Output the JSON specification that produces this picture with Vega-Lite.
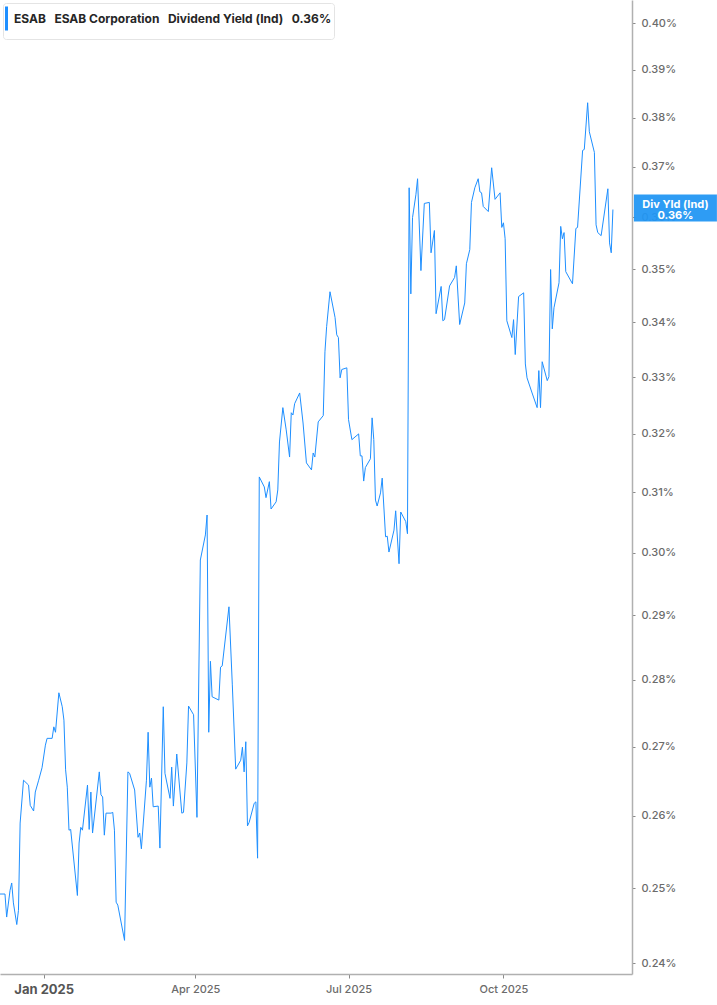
{
  "$schema": "https://vega.github.io/schema/vega-lite/v6.json",
  "autosize": {"type": "none"},
  "padding": {"left": 0, "top": 0, "right": 85, "bottom": 31},
  "width": 632,
  "height": 974,
  "background": "white",
  "data": {
    "values": [
      {"date": "2024-12-06", "yield": 0.2492},
      {"date": "2024-12-09", "yield": 0.2492},
      {"date": "2024-12-10", "yield": 0.2461},
      {"date": "2024-12-12", "yield": 0.2497},
      {"date": "2024-12-13", "yield": 0.2507},
      {"date": "2024-12-14", "yield": 0.2480},
      {"date": "2024-12-16", "yield": 0.2451},
      {"date": "2024-12-17", "yield": 0.2470},
      {"date": "2024-12-18", "yield": 0.2590},
      {"date": "2024-12-20", "yield": 0.2651},
      {"date": "2024-12-23", "yield": 0.2644},
      {"date": "2024-12-24", "yield": 0.2615},
      {"date": "2024-12-26", "yield": 0.2607},
      {"date": "2024-12-27", "yield": 0.2634},
      {"date": "2024-12-29", "yield": 0.2651},
      {"date": "2024-12-31", "yield": 0.2669},
      {"date": "2025-01-02", "yield": 0.2702},
      {"date": "2025-01-03", "yield": 0.2712},
      {"date": "2025-01-06", "yield": 0.2712},
      {"date": "2025-01-07", "yield": 0.2729},
      {"date": "2025-01-08", "yield": 0.2721},
      {"date": "2025-01-10", "yield": 0.2780},
      {"date": "2025-01-12", "yield": 0.2759},
      {"date": "2025-01-13", "yield": 0.2739},
      {"date": "2025-01-14", "yield": 0.2666},
      {"date": "2025-01-15", "yield": 0.2641},
      {"date": "2025-01-16", "yield": 0.2580},
      {"date": "2025-01-17", "yield": 0.2581},
      {"date": "2025-01-21", "yield": 0.2490},
      {"date": "2025-01-22", "yield": 0.2562},
      {"date": "2025-01-23", "yield": 0.2584},
      {"date": "2025-01-24", "yield": 0.2580},
      {"date": "2025-01-27", "yield": 0.2644},
      {"date": "2025-01-28", "yield": 0.2581},
      {"date": "2025-01-29", "yield": 0.2634},
      {"date": "2025-01-30", "yield": 0.2576},
      {"date": "2025-02-03", "yield": 0.2663},
      {"date": "2025-02-04", "yield": 0.2630},
      {"date": "2025-02-05", "yield": 0.2627},
      {"date": "2025-02-06", "yield": 0.2573},
      {"date": "2025-02-07", "yield": 0.2604},
      {"date": "2025-02-10", "yield": 0.2604},
      {"date": "2025-02-11", "yield": 0.2605},
      {"date": "2025-02-12", "yield": 0.2580},
      {"date": "2025-02-13", "yield": 0.2481},
      {"date": "2025-02-14", "yield": 0.2477},
      {"date": "2025-02-18", "yield": 0.2430},
      {"date": "2025-02-20", "yield": 0.2663},
      {"date": "2025-02-21", "yield": 0.2661},
      {"date": "2025-02-24", "yield": 0.2637},
      {"date": "2025-02-26", "yield": 0.2570},
      {"date": "2025-02-27", "yield": 0.2576},
      {"date": "2025-02-28", "yield": 0.2554},
      {"date": "2025-03-03", "yield": 0.2651},
      {"date": "2025-03-04", "yield": 0.2721},
      {"date": "2025-03-05", "yield": 0.2641},
      {"date": "2025-03-06", "yield": 0.2654},
      {"date": "2025-03-07", "yield": 0.2613},
      {"date": "2025-03-10", "yield": 0.2614},
      {"date": "2025-03-11", "yield": 0.2555},
      {"date": "2025-03-13", "yield": 0.2759},
      {"date": "2025-03-14", "yield": 0.2661},
      {"date": "2025-03-17", "yield": 0.2625},
      {"date": "2025-03-18", "yield": 0.2670},
      {"date": "2025-03-19", "yield": 0.2614},
      {"date": "2025-03-21", "yield": 0.2689},
      {"date": "2025-03-24", "yield": 0.2604},
      {"date": "2025-03-25", "yield": 0.2605},
      {"date": "2025-03-27", "yield": 0.2676},
      {"date": "2025-03-28", "yield": 0.2760},
      {"date": "2025-03-31", "yield": 0.2747},
      {"date": "2025-04-02", "yield": 0.2598},
      {"date": "2025-04-04", "yield": 0.2988},
      {"date": "2025-04-07", "yield": 0.3029},
      {"date": "2025-04-08", "yield": 0.3062},
      {"date": "2025-04-09", "yield": 0.2721},
      {"date": "2025-04-10", "yield": 0.2828},
      {"date": "2025-04-11", "yield": 0.2774},
      {"date": "2025-04-15", "yield": 0.2769},
      {"date": "2025-04-16", "yield": 0.2819},
      {"date": "2025-04-17", "yield": 0.2821},
      {"date": "2025-04-21", "yield": 0.2913},
      {"date": "2025-04-23", "yield": 0.2792},
      {"date": "2025-04-25", "yield": 0.2667},
      {"date": "2025-04-28", "yield": 0.2680},
      {"date": "2025-04-29", "yield": 0.2699},
      {"date": "2025-04-30", "yield": 0.2663},
      {"date": "2025-05-01", "yield": 0.2707},
      {"date": "2025-05-02", "yield": 0.2586},
      {"date": "2025-05-03", "yield": 0.2591},
      {"date": "2025-05-06", "yield": 0.2618},
      {"date": "2025-05-07", "yield": 0.2620},
      {"date": "2025-05-08", "yield": 0.2541},
      {"date": "2025-05-09", "yield": 0.3126},
      {"date": "2025-05-12", "yield": 0.3109},
      {"date": "2025-05-13", "yield": 0.3091},
      {"date": "2025-05-15", "yield": 0.3118},
      {"date": "2025-05-16", "yield": 0.3072},
      {"date": "2025-05-19", "yield": 0.3084},
      {"date": "2025-05-20", "yield": 0.3104},
      {"date": "2025-05-21", "yield": 0.3186},
      {"date": "2025-05-23", "yield": 0.3246},
      {"date": "2025-05-25", "yield": 0.3207},
      {"date": "2025-05-27", "yield": 0.3160},
      {"date": "2025-05-28", "yield": 0.3237},
      {"date": "2025-05-29", "yield": 0.3233},
      {"date": "2025-05-30", "yield": 0.3253},
      {"date": "2025-06-02", "yield": 0.3272},
      {"date": "2025-06-04", "yield": 0.3219},
      {"date": "2025-06-06", "yield": 0.3150},
      {"date": "2025-06-09", "yield": 0.3138},
      {"date": "2025-06-10", "yield": 0.3167},
      {"date": "2025-06-11", "yield": 0.3160},
      {"date": "2025-06-13", "yield": 0.3221},
      {"date": "2025-06-16", "yield": 0.3232},
      {"date": "2025-06-17", "yield": 0.3346},
      {"date": "2025-06-18", "yield": 0.3392},
      {"date": "2025-06-20", "yield": 0.3457},
      {"date": "2025-06-23", "yield": 0.3409},
      {"date": "2025-06-24", "yield": 0.3377},
      {"date": "2025-06-25", "yield": 0.3372},
      {"date": "2025-06-26", "yield": 0.3299},
      {"date": "2025-06-27", "yield": 0.3314},
      {"date": "2025-06-30", "yield": 0.3317},
      {"date": "2025-07-01", "yield": 0.3225},
      {"date": "2025-07-03", "yield": 0.3190},
      {"date": "2025-07-07", "yield": 0.3200},
      {"date": "2025-07-08", "yield": 0.3162},
      {"date": "2025-07-09", "yield": 0.3162},
      {"date": "2025-07-10", "yield": 0.3119},
      {"date": "2025-07-11", "yield": 0.3142},
      {"date": "2025-07-14", "yield": 0.3157},
      {"date": "2025-07-15", "yield": 0.3228},
      {"date": "2025-07-16", "yield": 0.3190},
      {"date": "2025-07-17", "yield": 0.3087},
      {"date": "2025-07-18", "yield": 0.3077},
      {"date": "2025-07-20", "yield": 0.3099},
      {"date": "2025-07-21", "yield": 0.3124},
      {"date": "2025-07-23", "yield": 0.3026},
      {"date": "2025-07-24", "yield": 0.3027},
      {"date": "2025-07-25", "yield": 0.3001},
      {"date": "2025-07-28", "yield": 0.3037},
      {"date": "2025-07-29", "yield": 0.3069},
      {"date": "2025-07-31", "yield": 0.2982},
      {"date": "2025-08-01", "yield": 0.3067},
      {"date": "2025-08-04", "yield": 0.3051},
      {"date": "2025-08-05", "yield": 0.3031},
      {"date": "2025-08-06", "yield": 0.3658},
      {"date": "2025-08-07", "yield": 0.3453},
      {"date": "2025-08-08", "yield": 0.3599},
      {"date": "2025-08-10", "yield": 0.3644},
      {"date": "2025-08-11", "yield": 0.3676},
      {"date": "2025-08-13", "yield": 0.3497},
      {"date": "2025-08-15", "yield": 0.3627},
      {"date": "2025-08-18", "yield": 0.3629},
      {"date": "2025-08-19", "yield": 0.3531},
      {"date": "2025-08-21", "yield": 0.3574},
      {"date": "2025-08-22", "yield": 0.3416},
      {"date": "2025-08-25", "yield": 0.3467},
      {"date": "2025-08-26", "yield": 0.3403},
      {"date": "2025-08-27", "yield": 0.3405},
      {"date": "2025-08-30", "yield": 0.3468},
      {"date": "2025-09-02", "yield": 0.3484},
      {"date": "2025-09-03", "yield": 0.3506},
      {"date": "2025-09-05", "yield": 0.3396},
      {"date": "2025-09-08", "yield": 0.3436},
      {"date": "2025-09-09", "yield": 0.3510},
      {"date": "2025-09-11", "yield": 0.3537},
      {"date": "2025-09-12", "yield": 0.3629},
      {"date": "2025-09-14", "yield": 0.3658},
      {"date": "2025-09-16", "yield": 0.3676},
      {"date": "2025-09-17", "yield": 0.3650},
      {"date": "2025-09-18", "yield": 0.3648},
      {"date": "2025-09-19", "yield": 0.3621},
      {"date": "2025-09-22", "yield": 0.3611},
      {"date": "2025-09-24", "yield": 0.3698},
      {"date": "2025-09-26", "yield": 0.3635},
      {"date": "2025-09-29", "yield": 0.3648},
      {"date": "2025-09-30", "yield": 0.3580},
      {"date": "2025-10-01", "yield": 0.3589},
      {"date": "2025-10-02", "yield": 0.3558},
      {"date": "2025-10-03", "yield": 0.3403},
      {"date": "2025-10-06", "yield": 0.3372},
      {"date": "2025-10-07", "yield": 0.3405},
      {"date": "2025-10-08", "yield": 0.3341},
      {"date": "2025-10-10", "yield": 0.3448},
      {"date": "2025-10-13", "yield": 0.3455},
      {"date": "2025-10-14", "yield": 0.3324},
      {"date": "2025-10-15", "yield": 0.3299},
      {"date": "2025-10-18", "yield": 0.3272},
      {"date": "2025-10-21", "yield": 0.3246},
      {"date": "2025-10-22", "yield": 0.3312},
      {"date": "2025-10-23", "yield": 0.3246},
      {"date": "2025-10-24", "yield": 0.3328},
      {"date": "2025-10-27", "yield": 0.3294},
      {"date": "2025-10-28", "yield": 0.3301},
      {"date": "2025-10-29", "yield": 0.3499},
      {"date": "2025-10-30", "yield": 0.3388},
      {"date": "2025-10-31", "yield": 0.3427},
      {"date": "2025-11-03", "yield": 0.3474},
      {"date": "2025-11-04", "yield": 0.3582},
      {"date": "2025-11-05", "yield": 0.3558},
      {"date": "2025-11-06", "yield": 0.3570},
      {"date": "2025-11-07", "yield": 0.3495},
      {"date": "2025-11-11", "yield": 0.3472},
      {"date": "2025-11-13", "yield": 0.3578},
      {"date": "2025-11-14", "yield": 0.3580},
      {"date": "2025-11-17", "yield": 0.3733},
      {"date": "2025-11-18", "yield": 0.3735},
      {"date": "2025-11-20", "yield": 0.3831},
      {"date": "2025-11-21", "yield": 0.3771},
      {"date": "2025-11-24", "yield": 0.3729},
      {"date": "2025-11-25", "yield": 0.3585},
      {"date": "2025-11-26", "yield": 0.3570},
      {"date": "2025-11-28", "yield": 0.3564},
      {"date": "2025-12-02", "yield": 0.3656},
      {"date": "2025-12-03", "yield": 0.3550},
      {"date": "2025-12-04", "yield": 0.3531},
      {"date": "2025-12-05", "yield": 0.3615}
    ]
  },
  "encoding": {
    "x": {
      "field": "date",
      "type": "temporal",
      "title": null,
      "scale": {
        "type": "utc",
        "domain": [
          {"year": 2024, "month": 12, "date": 6, "hours": 1, "utc": true},
          {"year": 2025, "month": 12, "date": 16, "hours": 8, "utc": true}
        ]
      },
      "axis": {
        "values": [
          {"year": 2025, "month": 1, "date": 1, "utc": true},
          {"year": 2025, "month": 4, "date": 1, "utc": true},
          {"year": 2025, "month": 7, "date": 1, "utc": true},
          {"year": 2025, "month": 10, "date": 1, "utc": true}
        ],
        "labelExpr": "utcFormat(datum.value, '%b %Y')",
        "grid": false,
        "domainColor": "#b0b0b0",
        "domainWidth": 1.5,
        "tickColor": "#8a8a8a",
        "tickSize": 4,
        "labelPadding": 5,
        "labelColor": {"condition": {"test": "utcmonth(datum.value) === 0", "value": "#555555"}, "value": "#6b6b6b"},
        "labelFontSize": {"condition": {"test": "utcmonth(datum.value) === 0", "value": 13}, "value": 11},
        "labelFontWeight": {"condition": {"test": "utcmonth(datum.value) === 0", "value": "bold"}, "value": 500}
      }
    },
    "y": {
      "field": "yield",
      "type": "quantitative",
      "title": null,
      "scale": {"type": "log", "domain": [0.2386, 0.4051], "nice": false, "zero": false},
      "axis": {
        "orient": "right",
        "values": [0.24, 0.25, 0.26, 0.27, 0.28, 0.29, 0.30, 0.31, 0.32, 0.33, 0.34, 0.35, 0.36, 0.37, 0.38, 0.39, 0.40],
        "labelExpr": "format(datum.value, '.2f') + '%'",
        "grid": false,
        "domainColor": "#b0b0b0",
        "domainWidth": 1.5,
        "tickColor": "#8a8a8a",
        "tickSize": 3,
        "labelPadding": 6,
        "labelColor": "#6b6b6b",
        "labelFontSize": 11,
        "labelFontWeight": 500
      }
    }
  },
  "layer": [
    {
      "mark": {"type": "line", "strokeWidth": 1, "interpolate": "linear"},
      "encoding": {
        "color": {
          "datum": "ESAB\u00a0\u00a0\u00a0ESAB Corporation\u00a0\u00a0\u00a0Dividend Yield (Ind)\u00a0\u00a0\u00a00.36%\u00a0\u00a0",
          "type": "nominal",
          "scale": {"range": ["#1e8fff"]},
          "legend": {
            "title": null,
            "orient": "top-left",
            "offset": 3,
            "padding": 2,
            "fillColor": "white",
            "strokeColor": "#e4e4e4",
            "cornerRadius": 3,
            "symbolType": "M-1,-1V1",
            "symbolSize": 576,
            "symbolStrokeWidth": 3,
            "labelOffset": -18,
            "labelFontSize": 12,
            "labelFontWeight": "bold",
            "labelColor": "#262626",
            "labelLimit": 500
          }
        }
      }
    },
    {
      "transform": [{"filter": "utcmonth(datum.date) === 11 && utcdate(datum.date) === 5"}],
      "mark": {
        "type": "point",
        "shape": "M-1,-0.325H1V0.325H-1Z",
        "size": 6889,
        "filled": true,
        "fill": "#2196f3",
        "opacity": 0.94,
        "strokeWidth": 0,
        "xOffset": 62.5,
        "yOffset": -1.5
      }
    },
    {
      "transform": [{"filter": "utcmonth(datum.date) === 11 && utcdate(datum.date) === 5"}],
      "mark": {
        "type": "text",
        "color": "white",
        "fontWeight": "bold",
        "fontSize": 11,
        "align": "center",
        "baseline": "middle",
        "lineHeight": 11,
        "xOffset": 62.5,
        "yOffset": -5
      },
      "encoding": {
        "text": {"value": ["Div Yld (Ind)", "0.36%"]}
      }
    }
  ],
  "config": {
    "font": "Inter",
    "view": {"stroke": null}
  }
}
